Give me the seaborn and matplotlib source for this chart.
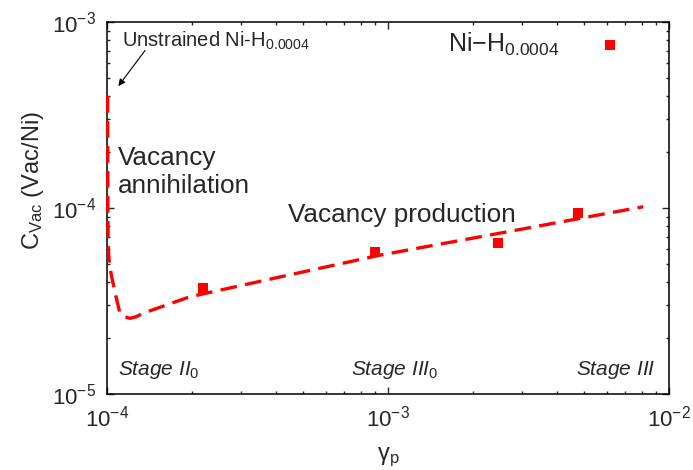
import numpy as np
import pandas as pd
import matplotlib
matplotlib.use("Agg")
import matplotlib.pyplot as plt
import seaborn as sns

# Model curve (vacancy concentration vs plastic strain)
curva_gamma = [1.005e-4, 1.006e-4, 1.007e-4, 1.01e-4, 1.02e-4, 1.039e-4, 1.075e-4,
               1.112e-4, 1.159e-4, 1.207e-4, 1.268e-4, 1.346e-4, 1.97e-4, 4.13e-4,
               9.37e-4, 2.51e-3, 8.1e-3]
curva_cvac = [4.0e-4, 2.0e-4, 1.0e-4, 6.2e-5, 5.0e-5, 4.27e-5, 3.37e-5,
              2.72e-5, 2.6e-5, 2.55e-5, 2.6e-5, 2.72e-5, 3.33e-5, 4.26e-5,
              5.58e-5, 7.33e-5, 1.016e-4]

# Measured points Ni-H0.0004
pontos_gamma = [2.2e-4, 9.0e-4, 2.47e-3, 4.75e-3]
pontos_cvac = [3.7e-5, 5.82e-5, 6.5e-5, 9.37e-5]

serie_nome = "Ni\u2212H$_{0.0004}$"
estagios = ["Stage II$_{0}$", "Stage III$_{0}$", "Stage III"]

df_curva = pd.DataFrame({"gamma": curva_gamma, "cvac": curva_cvac})
df_pontos = pd.DataFrame({"gamma": pontos_gamma, "cvac": pontos_cvac})

sns.set_style("ticks")
plt.rcParams["font.family"] = ["Liberation Sans", "DejaVu Sans"]
plt.rcParams["mathtext.fontset"] = "custom"
plt.rcParams["mathtext.rm"] = "Liberation Sans"
plt.rcParams["mathtext.it"] = "Liberation Sans:italic"
plt.rcParams["mathtext.default"] = "regular"

fig = plt.figure(figsize=(6.93, 4.70), dpi=100)
ax = fig.add_axes([107 / 693, 1 - 394 / 470, 562 / 693, 372 / 470])

# Curva do modelo (tracejada), desenhada por cima da moldura como no original
sns.lineplot(data=df_curva, x="gamma", y="cvac", ax=ax, color="#ff0000",
             linewidth=2.4, sort=False, estimator=None, legend=False)
linha = ax.lines[0]
linha.set_linestyle((0, (5, 2.5)))
linha.set_zorder(3)
linha.set_clip_on(False)

# Pontos
sns.scatterplot(data=df_pontos, x="gamma", y="cvac", ax=ax, color="#ff0000",
                marker="s", s=46, linewidth=0, label=serie_nome, zorder=4)

ax.set_xscale("log")
ax.set_yscale("log")
ax.set_xlim(1e-4, 1e-2)
ax.set_ylim(1e-5, 1e-3)

ax.set_xlabel("\u03b3$_{p}$", fontsize=17)
ax.set_ylabel("C$_{Vac}$ (Vac/Ni)", fontsize=17)
ax.yaxis.set_label_coords(-0.108, 0.575)
ax.xaxis.set_label_coords(0.5, -0.14)

ax.tick_params(which="both", direction="in", top=True, right=True, width=1.0)
ax.tick_params(which="major", length=5, labelsize=16, pad=8)
ax.tick_params(which="minor", length=2.5)
for lado in ax.spines.values():
    lado.set_linewidth(1.1)
    lado.set_color("black")

leg = ax.legend(loc="upper right", frameon=False, markerfirst=False, fontsize=18,
                handletextpad=1.5, borderaxespad=0.2, handlelength=1.0,
                bbox_to_anchor=(0.944, 1.016))

# Anotacoes
ax.text(1.131e-4, 7.34e-4, "Unstrained Ni-H$_{0.0004}$", fontsize=14.5, va="baseline")
ax.annotate("", xy=(1.083e-4, 4.4e-4), xytext=(1.384e-4, 7.22e-4),
            arrowprops=dict(arrowstyle="-|>", color="black", lw=0.8, mutation_scale=10))
ax.text(1.097e-4, 1.70e-4, "Vacancy", fontsize=18.8, va="baseline")
ax.text(1.097e-4, 1.20e-4, "annihilation", fontsize=18.8, va="baseline")
ax.text(4.41e-4, 8.43e-5, "Vacancy production", fontsize=18.8, va="baseline")

estagio_x = [1.098e-4, 7.38e-4, 8.95e-3]
estagio_ha = ["left", "left", "right"]
for nome, xs, ha in zip(estagios, estagio_x, estagio_ha):
    ax.text(xs, 1.265e-5, r"$\mathit{" + nome.replace(" ", "\\ ").replace("$", "") + "}$",
            fontsize=15, ha=ha, va="baseline")

fig.savefig("out.png", dpi=100)
